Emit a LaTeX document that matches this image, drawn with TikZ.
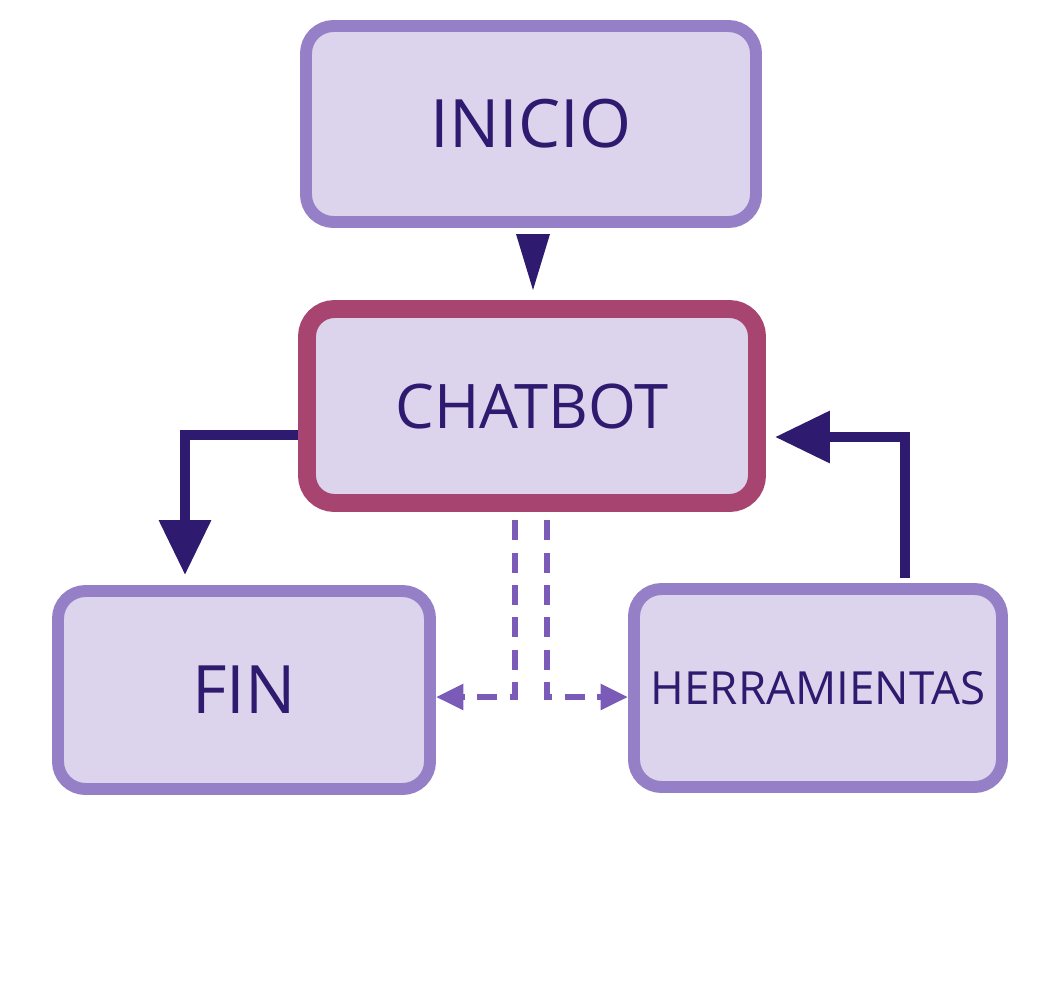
\documentclass[tikz,border=0pt]{standalone}
\usepackage{fontspec}
\setmainfont{Open Sans}
\usetikzlibrary{arrows.meta}
\definecolor{bord}{HTML}{9580C8}
\definecolor{fillc}{HTML}{DCD3EC}
\definecolor{chat}{HTML}{A84470}
\definecolor{txt}{HTML}{2E1A6E}
\definecolor{dash}{HTML}{7A5CB8}
\begin{document}
\begin{tikzpicture}[x=0.02cm,y=-0.02cm,
  box/.style={draw=bord,fill=fillc,line width=12*0.567pt,rounded corners=0.55cm,text=txt},
  arr/.style={draw=txt,line width=10*0.567pt,-{Triangle[length=1.1cm,width=1.0cm]}},
  darr/.style={draw=dash,line width=6*0.567pt,dash pattern=on 0.4cm off 0.25cm,-{Triangle[length=0.55cm,width=0.5cm]}}]
\useasboundingbox (0,0) rectangle (1063,992);
\fill[white] (0,0) rectangle (1063,992);
\node[box,minimum width=450*0.02cm,minimum height=196*0.02cm,font=\fontsize{38}{40}\selectfont] (ini) at (531,124) {INICIO};
\node[box,draw=chat,line width=18*0.567pt,minimum width=450*0.02cm,minimum height=194*0.02cm,font=\fontsize{35}{40}\selectfont] (chat) at (532,406) {CHATBOT};
\node[box,minimum width=372*0.02cm,minimum height=198*0.02cm,font=\fontsize{38}{40}\selectfont] (fin) at (244,690) {FIN};
\node[box,minimum width=368*0.02cm,minimum height=198*0.02cm,font=\fontsize{26}{29}\selectfont] (her) at (818,688) {HERRAMIENTAS};
\fill[txt] (516,234) -- (550,234) -- (533,290) -- cycle;
\draw[arr] (chat.west |- 0,435) -| (185,575);
\draw[arr] (905,578) |- (775,437);
\coordinate (c1) at (515,520);
\coordinate (c2) at (547,520);
\draw[darr] (c1) |- (fin.east |- 0,697);
\draw[darr] (c2) |- (her.west |- 0,697);
\end{tikzpicture}
\end{document}
